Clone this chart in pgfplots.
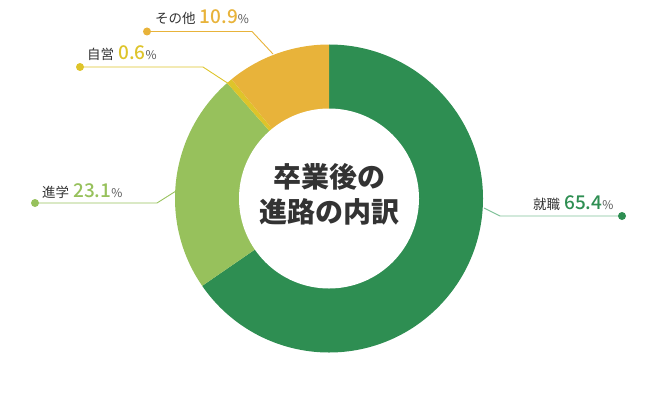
\documentclass[border=0pt]{standalone}
\usepackage{pgfplots}
\pgfplotsset{compat=1.18}
\usepackage{pgfplotstable}
\usepackage{fontspec}
\setmainfont{Noto Sans CJK JP}
\newfontfamily\jpmed{Noto Sans CJK JP Medium}

\definecolor{shushoku}{HTML}{2E8E52}
\definecolor{shushokuline}{HTML}{7FC198}
\definecolor{shingaku}{HTML}{97C15C}
\definecolor{jiei}{HTML}{DEC42A}
\definecolor{sonota}{HTML}{E8B33A}
\definecolor{txt}{HTML}{333333}
\definecolor{pct}{HTML}{555555}

% share of graduates, in order clockwise from 12 o'clock
\pgfplotstableread{
cat value
1 65.4
2 23.1
3 0.6
4 10.9
}\shares

\newcommand{\lab}[3]{{\fontsize{13.5bp}{16bp}\selectfont\color{txt}#1}\hspace{4bp}%
  {\jpmed\fontsize{19bp}{22bp}\selectfont\color{#3}#2}%
  {\fontsize{12bp}{14bp}\selectfont\color{pct}\%}}

\begin{document}
\begin{tikzpicture}
  \pgfplotstablegetelem{0}{value}\of\shares \let\vA\pgfplotsretval
  \pgfplotstablegetelem{1}{value}\of\shares \let\vB\pgfplotsretval
  \pgfplotstablegetelem{2}{value}\of\shares \let\vC\pgfplotsretval
  \pgfplotstablegetelem{3}{value}\of\shares \let\vD\pgfplotsretval
  \pgfmathsetmacro\aO{90}
  \pgfmathsetmacro\aA{\aO-3.6*\vA}
  \pgfmathsetmacro\aB{\aA-3.6*\vB}
  \pgfmathsetmacro\aC{\aB-3.6*\vC}
  \pgfmathsetmacro\aD{\aC-3.6*\vD}
  \begin{axis}[
    width=660bp, height=416bp,
    scale only axis,
    xmin=0, xmax=660,
    ymin=0, ymax=416,
    y dir=reverse,
    hide axis,
    clip=false
  ]
    \path (axis cs:0,0) rectangle (axis cs:660,416);
    % donut segments
    \fill[shushoku] (axis cs:329,198.5) -- ++(\aO:154bp) arc[start angle=\aO, end angle=\aA, radius=154bp] -- cycle;
    \fill[shingaku] (axis cs:329,198.5) -- ++(\aA:154bp) arc[start angle=\aA, end angle=\aB, radius=154bp] -- cycle;
    \fill[jiei] (axis cs:329,198.5) -- ++(\aB:154bp) arc[start angle=\aB, end angle=\aC, radius=154bp] -- cycle;
    \fill[sonota] (axis cs:329,198.5) -- ++(\aC:154bp) arc[start angle=\aC, end angle=\aD, radius=154bp] -- cycle;
    \fill[white] (axis cs:329,198.5) circle[radius=90bp];

    % centre title
    \node[anchor=base, inner sep=0, text=txt, font=\bfseries\fontsize{28bp}{32bp}\selectfont] at (axis cs:329,187) {卒業後の};
    \node[anchor=base, inner sep=0, text=txt, font=\bfseries\fontsize{28bp}{32bp}\selectfont] at (axis cs:329,222) {進路の内訳};

    % leader lines
    \draw[shushokuline, line width=0.9bp] (axis cs:484,208) -- (axis cs:500,216) -- (axis cs:622,216);
    \fill[shushoku] (axis cs:622,216) circle[radius=4bp];
    \draw[shingaku, line width=0.9bp] (axis cs:176,191) -- (axis cs:157,203) -- (axis cs:35,203);
    \fill[shingaku] (axis cs:35,203) circle[radius=4bp];
    \draw[jiei, line width=0.9bp] (axis cs:229,84) -- (axis cs:203,67) -- (axis cs:80,67);
    \fill[jiei] (axis cs:80,67) circle[radius=4bp];
    \draw[sonota, line width=0.9bp] (axis cs:273,54) -- (axis cs:252,31.5) -- (axis cs:147,31.5);
    \fill[sonota] (axis cs:147,31.5) circle[radius=4bp];

    % labels
    \node[anchor=base west, inner sep=0] at (axis cs:533,209) {\lab{就職}{65.4}{shushoku}};
    \node[anchor=base west, inner sep=0] at (axis cs:42,197) {\lab{進学}{23.1}{shingaku}};
    \node[anchor=base west, inner sep=0] at (axis cs:87,60) {\lab{自営}{0.6}{jiei}};
    \node[anchor=base west, inner sep=0] at (axis cs:155,24) {\lab{その他}{10.9}{sonota}};
  \end{axis}
\end{tikzpicture}
\end{document}
